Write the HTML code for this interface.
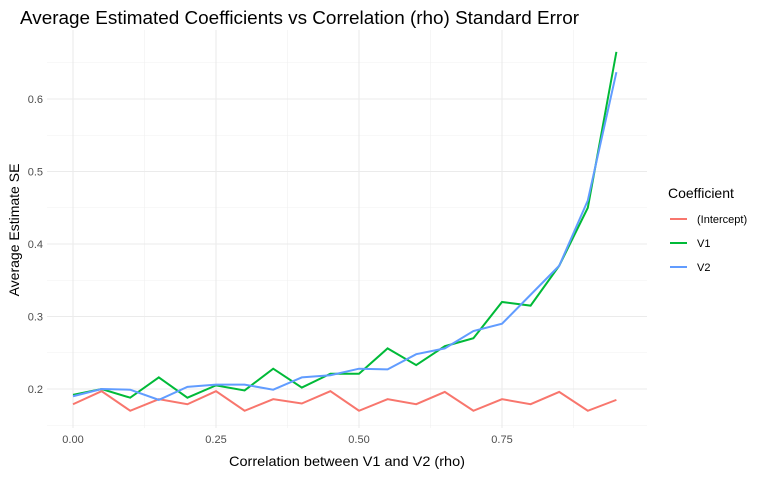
<!DOCTYPE html>
<html><head><meta charset="utf-8"><style>
body{margin:0;background:#fff;font-family:"Liberation Sans",sans-serif}
</style></head><body>
<svg id="c" width="769" height="474" xmlns="http://www.w3.org/2000/svg"></svg>
<script>
const rho=[0,0.05,0.1,0.15,0.2,0.25,0.3,0.35,0.4,0.45,0.5,0.55,0.6,0.65,0.7,0.75,0.8,0.85,0.9,0.95];
const intercept=[0.179,0.197,0.170,0.186,0.179,0.197,0.170,0.186,0.180,0.197,0.170,0.186,0.179,0.196,0.170,0.186,0.179,0.196,0.170,0.185];
const v1=[0.192,0.200,0.188,0.216,0.188,0.205,0.198,0.228,0.202,0.221,0.221,0.256,0.233,0.259,0.270,0.320,0.315,0.370,0.450,0.665];
const v2=[0.190,0.200,0.199,0.185,0.203,0.206,0.206,0.199,0.216,0.219,0.228,0.227,0.248,0.256,0.280,0.290,0.330,0.370,0.460,0.637];
const xTicks=[0,0.25,0.5,0.75];
const xTickLabels=["0.00","0.25","0.50","0.75"];
const yTicks=[0.2,0.3,0.4,0.5,0.6];
const yTickLabels=["0.2","0.3","0.4","0.5","0.6"];
const seriesNames=["(Intercept)","V1","V2"];
const colors=["#F8766D","#00BA38","#619CFF"];
const NS="http://www.w3.org/2000/svg";
const svg=document.getElementById('c');
const L=47,R=647,T=30,B=428;
const X=v=>73+v*572;
const Y=v=>389-(v-0.2)*725;
function el(t,a,p){const e=document.createElementNS(NS,t);for(const k in a)e.setAttribute(k,a[k]);(p||svg).appendChild(e);return e;}
for(let v=0.125;v<1;v+=0.25){const g=el('line',{x1:X(v),x2:X(v),y1:T,y2:B,stroke:'#f0f0f0','stroke-width':0.6});

}
for(let v=0.15;v<0.7;v+=0.1){const g=el('line',{x1:L,x2:R,y1:Y(v),y2:Y(v),stroke:'#f0f0f0','stroke-width':0.6});

}
xTicks.forEach((v,i)=>{const g=el('line',{x1:X(v),x2:X(v),y1:T,y2:B,stroke:'#ebebeb','stroke-width':1.1});


const t=el('text',{x:X(v),y:443,'text-anchor':'middle','font-size':11,fill:'#4d4d4d'});t.textContent=xTickLabels[i];

});
yTicks.forEach((v,i)=>{const g=el('line',{x1:L,x2:R,y1:Y(v),y2:Y(v),stroke:'#ebebeb','stroke-width':1.1});


const t=el('text',{x:43,y:Y(v)+4,'text-anchor':'end','font-size':11,fill:'#4d4d4d'});t.textContent=yTickLabels[i];

});
[intercept,v1,v2].forEach((s,k)=>{const p=el('polyline',{points:s.map((v,i)=>X(rho[i])+','+Y(v)).join(' '),fill:'none',stroke:colors[k],'stroke-width':2});

});
let t=el('text',{x:20,y:24,'font-size':18,fill:'#000',textLength:559,lengthAdjust:'spacingAndGlyphs'});t.textContent='Average Estimated Coefficients vs Correlation (rho) Standard Error';


t=el('text',{x:347,y:466,'text-anchor':'middle','font-size':14,fill:'#000',textLength:236,lengthAdjust:'spacingAndGlyphs'});t.textContent='Correlation between V1 and V2 (rho)';


t=el('text',{x:19,y:230,'text-anchor':'middle','font-size':14,fill:'#000',transform:'rotate(-90 19 230)'});t.textContent='Average Estimate SE';


t=el('text',{x:668,y:198,'font-size':14,fill:'#000'});t.textContent='Coefficient';


seriesNames.forEach((n,k)=>{const y=219+k*24;
const g=el('g',{});


el('line',{x1:670,x2:687,y1:y,y2:y,stroke:colors[k],'stroke-width':2},g);
const tt=el('text',{x:697,y:y+4,'font-size':11,fill:'#000'},g);tt.textContent=n;});
</script>
</body></html>
